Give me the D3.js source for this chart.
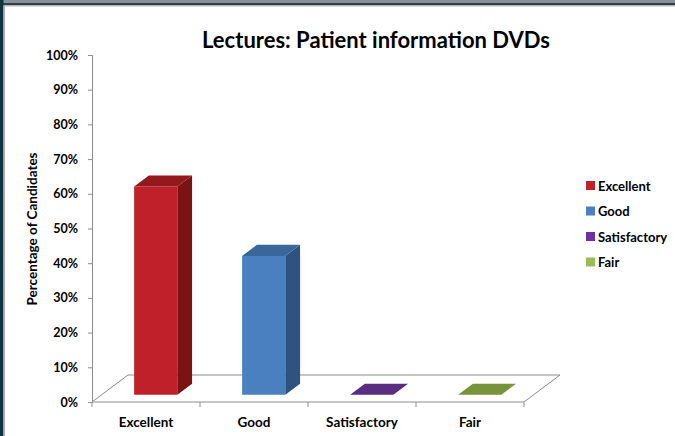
<!DOCTYPE html>
<html>
<head>
<meta charset="utf-8">
<script src="https://cdn.jsdelivr.net/npm/d3@7"></script>
<style>
  body { margin: 0; background: #fff; }
  svg { display: block; font-family: Lato, "Open Sans", sans-serif; font-weight: bold; }
</style>
</head>
<body>
<div id="chart"></div>
<script>
/* DATA */
var categories = ["Excellent", "Good", "Satisfactory", "Fair"];
var values = [0.60, 0.40, 0, 0];
var yTicks = [0, 0.1, 0.2, 0.3, 0.4, 0.5, 0.6, 0.7, 0.8, 0.9, 1.0];

var frontColors = ["#c0202a", "#4a80c0", "#5b2d80", "#77933c"];
var sideColors = ["#7b1214", "#2f5380", "#3d1e58", "#55692b"];
var topColors = ["#94191d", "#3a669a", "#5b2d80", "#77933c"];
var legendColors = ["#c0202a", "#4a80c0", "#7030a0", "#9bbb59"];

var W = 675, H = 436;

// 3d depth offsets for the full floor
var depthX = 36, depthY = -27;
var barFront = 0.27, barBack = 0.68;

var xScale = d3.scaleBand()
  .domain(categories)
  .range([92, 524])
  .paddingInner(0.6)
  .paddingOuter(0.3);

var yScale = d3.scaleLinear()
  .domain([0, 1])
  .range([402, 55]);

// project a point (x on the front plane, value, depth fraction)
function pt(x, v, d) {
  return [x + depthX * d, yScale(v) + depthY * d];
}
function poly(points) {
  return points.map(function(p) { return p.join(","); }).join(" ");
}

var svg = d3.select("#chart").append("svg")
  .attr("width", W)
  .attr("height", H);

// window frame
svg.append("rect").attr("x", 0).attr("y", 0).attr("width", W).attr("height", 3).attr("fill", "#8a9094");
svg.append("rect").attr("x", 0).attr("y", 3).attr("width", W).attr("height", 2).attr("fill", "#2f4148");
svg.append("rect").attr("x", 0).attr("y", 5).attr("width", W).attr("height", 1.5).attr("fill", "#b4b8ba");
svg.append("rect").attr("x", 0).attr("y", 0).attr("width", 3.5).attr("height", H).attr("fill", "#0f3340");
svg.append("rect").attr("x", 3.5).attr("y", 5).attr("width", 1.5).attr("height", H).attr("fill", "#a8acae");

// title
svg.append("text")
  .attr("x", 376)
  .attr("y", 48)
  .attr("text-anchor", "middle")
  .style("font-size", "22px")
  .text("Lectures: Patient information DVDs");

// floor
var x0 = xScale.range()[0], x1 = xScale.range()[1];
svg.append("polygon")
  .attr("points", poly([pt(x0, 0, 0), pt(x1, 0, 0), pt(x1, 0, 1), pt(x0, 0, 1)]))
  .attr("fill", "none")
  .attr("stroke", "#8c8c8c")
  .attr("stroke-width", 1);

// y axis
var yAxis = svg.append("g")
  .attr("transform", "translate(" + x0 + ",0)")
  .call(d3.axisLeft(yScale).tickValues(yTicks).tickFormat(d3.format(".0%")).tickSize(4).tickPadding(10));
yAxis.select(".domain").attr("stroke", "#8c8c8c");
yAxis.selectAll(".tick line").attr("stroke", "#8c8c8c");
yAxis.selectAll("text")
  .attr("fill", "#000")
  .style("font-size", "12.5px")
  .style("font-family", "Lato, sans-serif")
  .style("font-weight", "bold");

// x axis ticks at band boundaries
var step = xScale.step();
var bounds = categories.map(function(c, i) { return x0 + i * step; });
bounds.push(x1);
svg.selectAll(".xtick")
  .data(bounds)
  .enter().append("line")
  .attr("x1", function(d) { return d; })
  .attr("x2", function(d) { return d; })
  .attr("y1", yScale(0))
  .attr("y2", yScale(0) + 5)
  .attr("stroke", "#8c8c8c");

svg.selectAll(".xlabel")
  .data(categories)
  .enter().append("text")
  .attr("x", function(d) { return xScale(d) + xScale.bandwidth() / 2; })
  .attr("y", 427)
  .attr("text-anchor", "middle")
  .style("font-size", "13.5px")
  .text(function(d) { return d; });

// y axis title
svg.append("text")
  .attr("transform", "translate(37,229) rotate(-90)")
  .attr("text-anchor", "middle")
  .style("font-size", "13.5px")
  .text("Percentage of Candidates");

// 3d bars
var bars = svg.selectAll(".bar")
  .data(categories)
  .enter().append("g")
  .attr("class", "bar");

var bw = xScale.bandwidth();
bars.each(function(c, i) {
  var g = d3.select(this);
  var l = xScale(c), r = l + bw, v = values[i];
  if (v > 0) {
    // front face
    g.append("polygon")
      .attr("points", poly([pt(l, 0, barFront), pt(r, 0, barFront), pt(r, v, barFront), pt(l, v, barFront)]))
      .attr("fill", frontColors[i]);
    // side face
    g.append("polygon")
      .attr("points", poly([pt(r, 0, barFront), pt(r, 0, barBack), pt(r, v, barBack), pt(r, v, barFront)]))
      .attr("fill", sideColors[i]);
  }
  // top face
  g.append("polygon")
    .attr("points", poly([pt(l, v, barFront), pt(r, v, barFront), pt(r, v, barBack), pt(l, v, barBack)]))
    .attr("fill", topColors[i]);
});

// legend
var legend = svg.selectAll(".legend")
  .data(categories)
  .enter().append("g")
  .attr("class", "legend")
  .attr("transform", function(d, i) { return "translate(586," + (181 + i * 25.5) + ")"; });

legend.append("rect")
  .attr("width", 9)
  .attr("height", 9)
  .attr("fill", function(d, i) { return legendColors[i]; });

legend.append("text")
  .attr("x", 12)
  .attr("y", 9.5)
  .style("font-size", "13px")
  .text(function(d) { return d; });
</script>
</body>
</html>
